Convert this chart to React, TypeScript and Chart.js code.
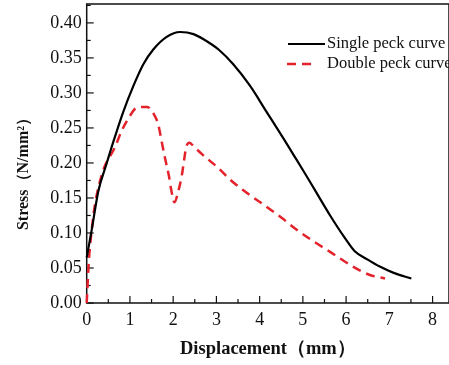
import React, { useEffect, useRef } from "react";
import { Chart, registerables } from "chart.js";

Chart.register(...registerables);

// ---- data ----
const singleX = [0, 0.115, 0.27, 0.45, 0.615, 0.846, 1.08, 1.31, 1.54, 1.85, 2.16, 2.47, 2.85, 3.05, 3.39, 3.78, 4.16, 4.55, 4.78, 5.0, 5.3, 5.63, 5.97, 6.2, 6.5, 6.78, 7.1, 7.51];
const singleY = [0.065, 0.104, 0.16, 0.197, 0.23, 0.273, 0.31, 0.341, 0.362, 0.38, 0.387, 0.384, 0.371, 0.362, 0.341, 0.31, 0.273, 0.235, 0.212, 0.19, 0.159, 0.125, 0.093, 0.074, 0.062, 0.052, 0.043, 0.035];

const doubleX = [0, 0.05, 0.1, 0.19, 0.38, 0.65, 0.81, 0.95, 1.16, 1.4, 1.55, 1.65, 1.74, 1.8, 1.9, 1.96, 2.03, 2.12, 2.2, 2.25, 2.3, 2.37, 2.5, 2.66, 2.85, 3.04, 3.3, 3.6, 4.1, 4.5, 4.85, 5.25, 5.63, 5.95, 6.24, 6.55, 6.9];
const doubleY = [0.0, 0.06, 0.095, 0.14, 0.189, 0.222, 0.246, 0.262, 0.279, 0.28, 0.27, 0.256, 0.229, 0.21, 0.182, 0.16, 0.144, 0.16, 0.182, 0.203, 0.222, 0.229, 0.222, 0.213, 0.203, 0.193, 0.177, 0.162, 0.14, 0.122, 0.105, 0.088, 0.073, 0.06, 0.049, 0.04, 0.035];

const seriesNames = ["Single peck curve", "Double peck curve"];
const xTicks = [0, 1, 2, 3, 4, 5, 6, 7, 8];
const yTicks = [0, 0.05, 0.1, 0.15, 0.2, 0.25, 0.3, 0.35, 0.4];
const xTitle = "Displacement（mm）";
const yTitle = "Stress（N/mm²）";

const SERIF = "'Liberation Serif', 'Times New Roman', serif";
const INK = "#111111";
const RED = "#e3222c";

export default function App() {
  const ref = useRef<HTMLCanvasElement | null>(null);

  useEffect(() => {
    const canvas = ref.current;
    if (!canvas) return;

    const framePlugin = {
      id: "frame",
      beforeDatasetsDraw(chart: any) {
        const { ctx, chartArea: a, scales } = chart;
        const xs = scales.x;
        const ys = scales.y;
        ctx.save();
        ctx.strokeStyle = INK;
        ctx.lineWidth = 1.5;
        ctx.strokeRect(a.left, a.top, a.right - a.left, a.bottom - a.top);
        ctx.lineWidth = 1.2;
        const seg = (x1: number, y1: number, x2: number, y2: number) => {
          ctx.beginPath();
          ctx.moveTo(x1, y1);
          ctx.lineTo(x2, y2);
          ctx.stroke();
        };
        // x ticks (inside)
        xTicks.forEach((v, i) => {
          const px = xs.getPixelForValue(v);
          seg(px, a.bottom, px, a.bottom - 7);
          if (i < xTicks.length - 1) {
            const m = xs.getPixelForValue((v + xTicks[i + 1]) / 2);
            seg(m, a.bottom, m, a.bottom - 4);
          }
        });
        // y ticks (inside)
        yTicks.forEach((v, i) => {
          const py = ys.getPixelForValue(v);
          seg(a.left, py, a.left + 7, py);
          const next = i < yTicks.length - 1 ? yTicks[i + 1] : v + (v - yTicks[i - 1]);
          const mv = (v + next) / 2;
          if (mv <= ys.max) {
            const m = ys.getPixelForValue(mv);
            seg(a.left, m, a.left + 4, m);
          }
        });
        ctx.restore();
      },
      afterDraw(chart: any) {
        const { ctx, chartArea: a } = chart;
        ctx.save();
        // axis titles
        ctx.fillStyle = INK;
        ctx.textAlign = "center";
        ctx.textBaseline = "middle";
        ctx.font = `bold 18.5px ${SERIF}`;
        ctx.fillText(xTitle, (a.left + a.right) / 2, 349);
        ctx.save();
        ctx.translate(24, 170);
        ctx.rotate(-Math.PI / 2);
        ctx.font = `bold 16px ${SERIF}`;
        ctx.fillText(yTitle, 0, 0);
        ctx.restore();

        // legend
        const ds = chart.data.datasets;
        const rows = [
          { y: 44, x1: 288, x2: 325 },
          { y: 64, x1: 287, x2: 313 },
        ];
        rows.forEach((r, i) => {
          const d = ds[i];
          ctx.strokeStyle = d.borderColor;
          ctx.lineWidth = d.borderWidth;
          ctx.setLineDash(d.borderDash || []);
          ctx.beginPath();
          ctx.moveTo(r.x1, r.y);
          ctx.lineTo(r.x2, r.y);
          ctx.stroke();
          ctx.setLineDash([]);
          ctx.fillStyle = INK;
          ctx.font = `16.5px ${SERIF}`;
          ctx.textAlign = "left";
          ctx.textBaseline = "middle";
          ctx.fillText(d.label, 327, r.y);
        });
        ctx.restore();
      },
    };

    const chart = new Chart(canvas, {
      type: "line",
      data: {
        datasets: [
          {
            label: seriesNames[0],
            data: singleX.map((x, i) => ({ x, y: singleY[i] })),
            borderColor: "#000000",
            borderWidth: 2.2,
            pointRadius: 0,
            fill: false,
            cubicInterpolationMode: "monotone",
            clip: 4,
          },
          {
            label: seriesNames[1],
            data: doubleX.map((x, i) => ({ x, y: doubleY[i] })),
            borderColor: RED,
            borderWidth: 2.5,
            borderDash: [9, 6],
            pointRadius: 0,
            fill: false,
            cubicInterpolationMode: "monotone",
            clip: 4,
          },
        ],
      } as any,
      options: {
        responsive: false,
        animation: false,
        events: [],
        layout: { padding: { top: 4, right: 0, left: 0, bottom: 0 } },
        plugins: {
          legend: { display: false },
          tooltip: { enabled: false },
        },
        scales: {
          x: {
            type: "linear",
            min: 0,
            max: 8.38,
            grid: { display: false, drawTicks: false },
            border: { display: false },
            afterBuildTicks: (s: any) => {
              s.ticks = xTicks.map((v) => ({ value: v }));
            },
            afterFit: (s: any) => {
              s.height = 62;
              s.paddingLeft = 0;
              s.paddingRight = 0;
            },
            ticks: {
              padding: 6,
              color: INK,
              font: { family: SERIF, size: 18 },
              maxRotation: 0,
              autoSkip: false,
              callback: (v: any) => String(v),
            },
          },
          y: {
            type: "linear",
            min: 0,
            max: 0.427,
            grid: { display: false, drawTicks: false },
            border: { display: false },
            afterBuildTicks: (s: any) => {
              s.ticks = yTicks.map((v) => ({ value: v }));
            },
            afterFit: (s: any) => {
              s.width = 86.7;
              s.paddingTop = 0;
              s.paddingBottom = 0;
            },
            ticks: {
              padding: 5,
              color: INK,
              font: { family: SERIF, size: 18 },
              autoSkip: false,
              callback: (v: any) => Number(v).toFixed(2),
            },
          },
        },
      } as any,
      plugins: [framePlugin],
    });

    return () => chart.destroy();
  }, []);

  return (
    <div style={{ position: "absolute", left: 0, top: 0, width: 449, height: 365, overflow: "hidden", background: "#fff" }}>
      <canvas ref={ref} width={449} height={365} style={{ width: 449, height: 365, display: "block" }} />
    </div>
  );
}
